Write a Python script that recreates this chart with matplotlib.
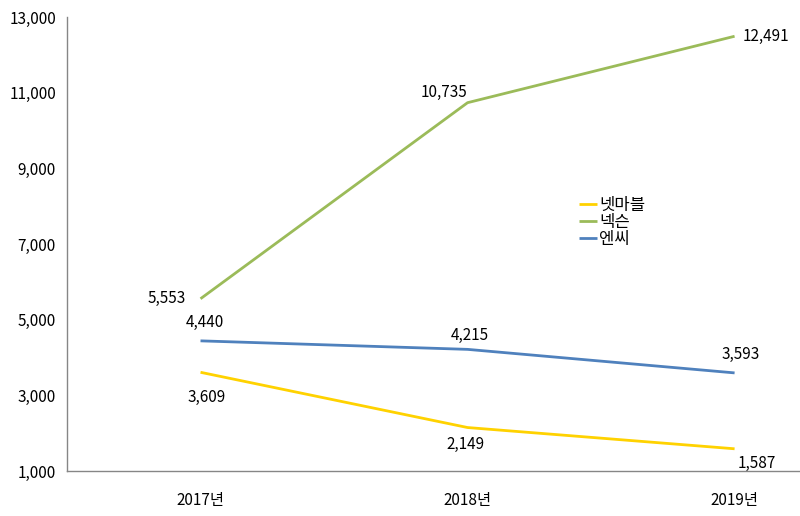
import matplotlib
matplotlib.use("Agg")
import matplotlib.pyplot as plt

plt.rcParams['font.family'] = ['Noto Sans CJK KR', 'DejaVu Sans']

categories = ['2017년', '2018년', '2019년']
netmarble = [3609, 2149, 1587]
nexon = [5553, 10735, 12491]
ncsoft = [4440, 4215, 3593]
series_names = ['넷마블', '넥슨', '엔씨']
colors = ['#FFD200', '#9BBB59', '#4F81BD']
yticks = [1000, 3000, 5000, 7000, 9000, 11000, 13000]

fig = plt.figure(figsize=(8, 5.16), dpi=100)
ax = fig.add_axes([67/800, 45/516, 733/800, 454/516])

x = list(range(len(categories)))
for vals, name, c in zip([netmarble, nexon, ncsoft], series_names, colors):
    ax.plot(x, vals, color=c, lw=2.0, label=name, solid_capstyle='butt')

fs = 11
offs_nexon = [(-34, 0), (-24, 10), (31, 0)]
offs_nc = [(4, 18), (2, 14), (6, 18)]
offs_nm = [(6, -25), (-2, -17), (22, -15)]
for vals, offs in [(nexon, offs_nexon), (ncsoft, offs_nc), (netmarble, offs_nm)]:
    for xi, v, (dx, dy) in zip(x, vals, offs):
        ax.annotate(f'{v:,}', (xi, v), xytext=(dx, dy), textcoords='offset pixels',
                    ha='center', va='center', fontsize=fs, color='#000000')

ax.set_xlim(-0.5, 2.245)
ax.set_ylim(1000, 13000)
ax.set_yticks(yticks)
ax.set_yticklabels([f'{t:,}' for t in yticks], fontsize=fs)
ax.set_xticks(x)
ax.set_xticklabels(categories, fontsize=fs)
ax.tick_params(axis='both', length=0)
ax.tick_params(axis='y', pad=8)
ax.tick_params(axis='x', pad=15)
for s in ['top', 'right']:
    ax.spines[s].set_visible(False)
for s in ['left', 'bottom']:
    ax.spines[s].set_color('#868686')
    ax.spines[s].set_linewidth(1.0)

leg = ax.legend(loc='upper left', bbox_to_anchor=((572 - 67)/733, (516 - 45 - 190)/454),
                frameon=False, fontsize=12, handlelength=1.1, handletextpad=0.15,
                labelspacing=0.0, borderaxespad=0)

fig.savefig('out.png', dpi=100)
